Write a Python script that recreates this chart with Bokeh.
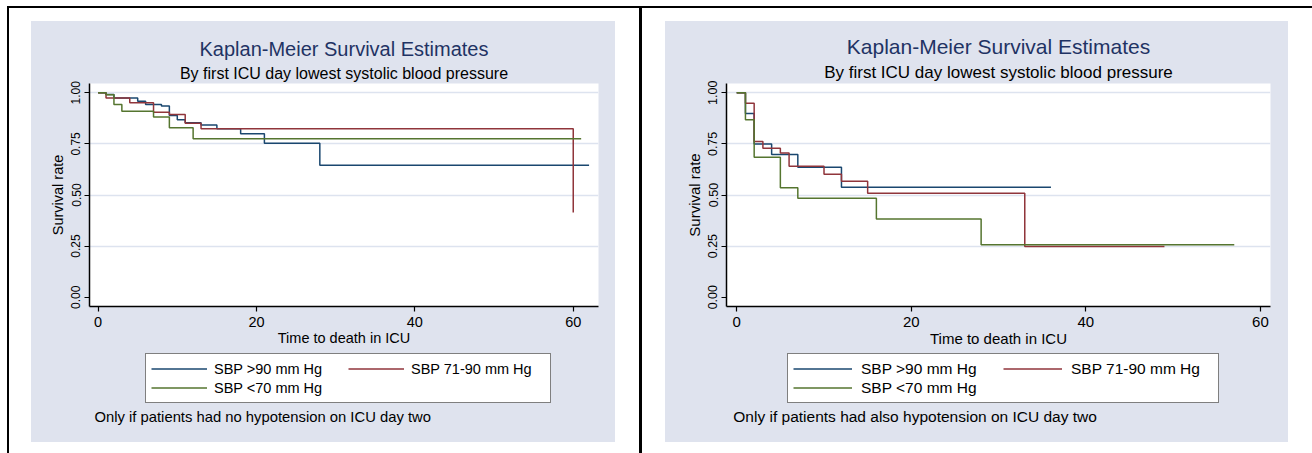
import numpy as np
from bokeh.plotting import figure
from bokeh.models import Legend, LegendItem, FixedTicker, Div, Spacer, Title, Label
from bokeh.layouts import row, column
from bokeh.embed import file_html
from bokeh.resources import INLINE

FONT = "Liberation Sans"
TITLE = "Kaplan-Meier Survival Estimates"
SUBTITLE = "By first ICU day lowest systolic blood pressure"
X_LABEL = "Time to death in ICU"
Y_LABEL = "Survival rate"
SERIES_NAMES = ["SBP >90 mm Hg", "SBP 71-90 mm Hg", "SBP <70 mm Hg"]
COLORS = ["#1a476f", "#90353b", "#55752f"]
X_TICKS = [0, 20, 40, 60]
Y_TICKS = [0, 0.25, 0.5, 0.75, 1.0]
Y_TICK_LABELS = ["0.00", "0.25", "0.50", "0.75", "1.00"]
GRID_TICKS = [0.25, 0.5, 0.75, 1.0]

# Left panel: no hypotension on ICU day two
LEFT_NOTE = "Only if patients had no hypotension on ICU day two"
L_HI_T = [0, 1, 2, 5, 6, 8, 9, 10, 11, 13, 15, 18, 21, 28, 62]
L_HI_S = [1.0, 0.992, 0.975, 0.959, 0.943, 0.935, 0.889, 0.868, 0.853, 0.843, 0.824, 0.80, 0.753, 0.646, 0.646]
L_MID_T = [0, 1, 4, 7, 9, 11, 13, 60]
L_MID_S = [1.0, 0.975, 0.951, 0.905, 0.894, 0.851, 0.824, 0.414]
L_LO_T = [0, 1, 2, 3, 7, 9, 12, 61]
L_LO_S = [1.0, 0.99, 0.943, 0.91, 0.881, 0.829, 0.775, 0.775]

# Right panel: also hypotension on ICU day two
RIGHT_NOTE = "Only if patients had also hypotension on ICU day two"
R_HI_T = [0, 1, 2, 4, 7, 12, 36]
R_HI_S = [1.0, 0.899, 0.75, 0.698, 0.636, 0.538, 0.538]
R_MID_T = [0, 1, 2, 3, 5, 6, 10, 12, 15, 33, 49]
R_MID_S = [1.0, 0.949, 0.762, 0.729, 0.706, 0.641, 0.602, 0.567, 0.509, 0.248, 0.248]
R_LO_T = [0, 1, 2, 5, 7, 16, 28, 57]
R_LO_S = [1.0, 0.868, 0.685, 0.535, 0.484, 0.383, 0.256, 0.256]

BG = "#dfe3ee"
GRID = "#dde3ef"
TITLE_COLOR = "#1f3364"

MAIN_H = 330   # titles + plot area + x axis
LEG_H = 91     # legend + note strip


def make_main(width, mb_l, mb_r, x_range, curves, fs):
    p = figure(width=width, height=MAIN_H, x_range=x_range, y_range=(-0.0455, 1.0455),
               output_backend="svg", toolbar_location=None,
               min_border_left=mb_l, min_border_right=mb_r,
               min_border_top=62, min_border_bottom=MAIN_H - 62 - 223)
    p.border_fill_color = BG
    p.background_fill_color = "white"
    p.outline_line_color = None
    p.xgrid.grid_line_color = None
    p.ygrid.ticker = FixedTicker(ticks=GRID_TICKS)
    p.ygrid.grid_line_color = GRID
    p.ygrid.grid_line_width = 1.5

    for ax in (p.xaxis[0], p.yaxis[0]):
        ax.axis_line_color = "black"
        ax.axis_line_width = 1.5
        ax.major_tick_line_color = "black"
        ax.major_tick_line_width = 1.2
        ax.major_tick_in = 0
        ax.major_tick_out = 5
        ax.minor_tick_line_color = None
        ax.major_label_text_font = FONT
        ax.major_label_text_color = "black"
        ax.axis_label_text_font = FONT
        ax.axis_label_text_font_style = "normal"
        ax.axis_label_text_color = "black"

    p.xaxis.ticker = FixedTicker(ticks=X_TICKS)
    p.xaxis.major_label_text_font_size = fs["tick"]
    p.xaxis.major_label_standoff = 5
    p.xaxis.axis_label = X_LABEL
    p.xaxis.axis_label_text_font_size = fs["axis"]
    p.xaxis.axis_label_standoff = 0

    p.yaxis.ticker = FixedTicker(ticks=Y_TICKS)
    p.yaxis.major_label_overrides = {t: s for t, s in zip(Y_TICKS, Y_TICK_LABELS)}
    p.yaxis.major_label_orientation = "vertical"
    p.yaxis.major_label_text_font_size = fs["ytick"]
    p.yaxis.major_label_standoff = 4
    p.yaxis.axis_label = Y_LABEL
    p.yaxis.axis_label_text_font_size = fs["axis"]
    p.yaxis.axis_label_standoff = 3

    for (t, s), color in zip(curves, COLORS):
        p.step(t, s, mode="after", line_color=color, line_width=1.5)

    p.add_layout(Title(text=SUBTITLE, align="center", standoff=4,
                       text_font=FONT, text_font_size=fs["sub"], text_font_style="normal",
                       text_color="black"), "above")
    p.add_layout(Title(text=TITLE, align="center", standoff=2,
                       text_font=FONT, text_font_size=fs["title"], text_font_style="normal",
                       text_color=TITLE_COLOR), "above")
    return p


def make_legend_strip(width, mb_l, mb_r, note, fs, leg):
    # strip under the plot: its frame lines up with the plot frame above it
    q = figure(width=width, height=LEG_H, x_range=(0, 1), y_range=(0, 1),
               output_backend="svg", toolbar_location=None,
               x_axis_location=None, y_axis_location=None,
               min_border_left=mb_l, min_border_right=mb_r, min_border_top=0, min_border_bottom=0)
    q.border_fill_color = BG
    q.background_fill_color = BG
    q.background_fill_alpha = 0
    q.outline_line_color = None
    q.grid.visible = False
    items = []
    for name, color in zip(SERIES_NAMES, COLORS):
        # legend key only: a single undefined point draws nothing in the strip
        r = q.line(x=np.array([np.nan]), y=np.array([np.nan]), line_color=color, line_width=1.5)
        items.append(LegendItem(label=name, renderers=[r]))
    legend = Legend(items=items, location=leg["loc"], orientation="horizontal", ncols=2,
                    padding=5, spacing=0, margin=0,
                    glyph_width=leg["gw"], glyph_height=19,
                    label_standoff=leg["ls"], label_width=leg["lw"], label_height=19,
                    label_text_font=FONT, label_text_font_size=fs["legend"],
                    label_text_color="black",
                    border_line_color="black", border_line_width=1.5,
                    background_fill_color="white", background_fill_alpha=1.0)
    q.add_layout(legend)
    q.add_layout(Label(x=leg["nx"], y=26, x_units="screen", y_units="screen", text=note,
                       text_font=FONT, text_font_size=fs["note"], text_color="black",
                       text_align="left", text_baseline="middle"))
    return q


L_FS = dict(title="20px", sub="16px", tick="14.5px", ytick="12px", axis="14.5px",
            legend="14.5px", note="14.8px")
R_FS = dict(title="21px", sub="17px", tick="15px", ytick="12.5px", axis="15px",
            legend="15.5px", note="15.5px")

left_main = make_main(584, 58, 17, (-1.086, 63.19),
                      [(L_HI_T, L_HI_S), (L_MID_T, L_MID_S), (L_LO_T, L_LO_S)], L_FS)
left_leg = make_legend_strip(584, 58, 17, LEFT_NOTE, L_FS,
                             dict(loc=(56, 39), gw=56, ls=7, lw=134, nx=5))
right_main = make_main(623, 61, 18, (-1.17, 61.15),
                       [(R_HI_T, R_HI_S), (R_MID_T, R_MID_S), (R_LO_T, R_LO_S)], R_FS)
right_leg = make_legend_strip(623, 61, 18, RIGHT_NOTE, R_FS,
                              dict(loc=(61, 39), gw=59, ls=9, lw=142, nx=6.8))


def bar(w, h):
    return Div(text="", width=w, height=h, margin=0, styles={"background-color": "black"})


def gap(w, h):
    return Spacer(width=w, height=h, margin=0)


def panel(w, main, leg):
    return column(gap(w, 13),
                  column(main, leg, styles={"background-color": BG}))


layout = column(
    gap(1312, 6),
    row(gap(7, 2), bar(1305, 2)),
    row(
        gap(7, 445),
        bar(2, 445),
        gap(22, 445),
        panel(584, left_main, left_leg),
        gap(24, 445),
        bar(3, 445),
        gap(23, 445),
        panel(623, right_main, right_leg),
    ),
)

open("out.html", "w").write(file_html(layout, INLINE))
